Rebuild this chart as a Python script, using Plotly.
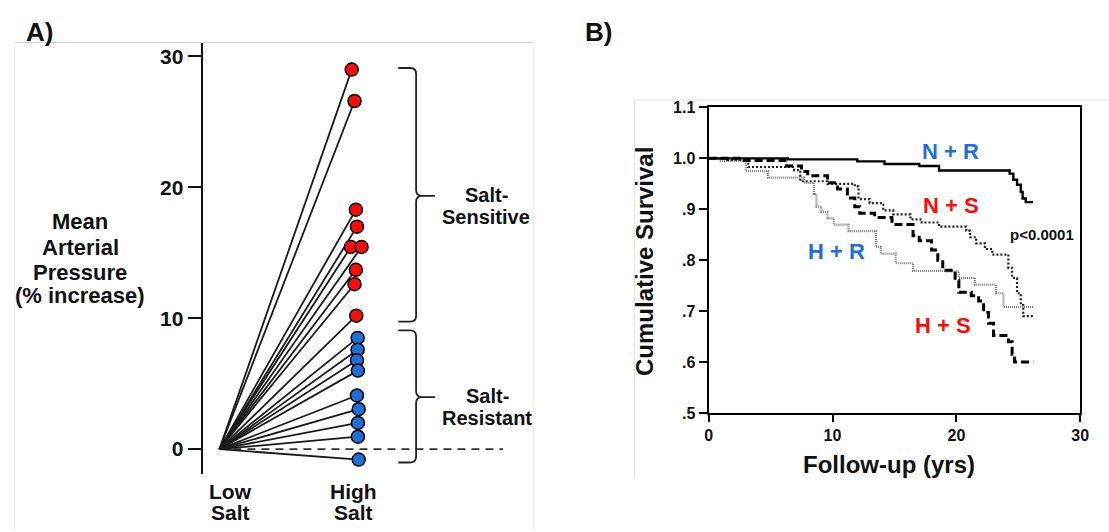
import plotly.graph_objects as go

# ---------------- data ----------------
# Panel A: % increase in mean arterial pressure, low -> high salt
sens_values = [29.0, 26.6, 18.3, 17.0, 15.45, 15.45, 13.7, 12.6, 10.2]
sens_x = [0.984, 1.005, 1.015, 1.023, 0.978, 1.057, 1.015, 1.005, 1.018]
res_values = [8.5, 7.6, 6.8, 6.0, 4.1, 3.05, 2.0, 0.95, -0.8]
res_x = [1.028, 1.028, 1.023, 1.030, 1.023, 1.036, 1.030, 1.030, 1.036]
low_x, low_y = 0.0, 0.0
a_ticks = [0, 10, 20, 30]

# Panel B: Kaplan-Meier cumulative survival
nr_t = [0, 6.4, 12.0, 14.2, 17.0, 18.6, 24.3, 24.6, 24.9, 25.2, 25.35, 25.6, 26.2]
nr_s = [1.0, 0.998, 0.994, 0.989, 0.985, 0.976, 0.970, 0.958, 0.948, 0.934, 0.921, 0.914, 0.914]

ns_t = [0, 1.5, 3.2, 6.9, 7.4, 9.6, 11.8, 12.1, 13.0, 14.1, 14.9, 16.3, 17.2, 18.6,
        20.8, 21.1, 21.6, 22.3, 22.9, 24.2, 24.5, 24.9, 25.2, 25.4, 26.2]
ns_s = [1.0, 0.997, 0.983, 0.977, 0.955, 0.950, 0.945, 0.920, 0.912, 0.898, 0.890, 0.880,
        0.874, 0.866, 0.858, 0.845, 0.833, 0.822, 0.811, 0.785, 0.765, 0.735, 0.712, 0.690, 0.690]

hr_t = [0, 0.9, 3.0, 4.8, 7.7, 8.5, 8.7, 9.1, 9.6, 10.1, 11.3, 13.5, 13.9, 15.1, 16.5,
        19.1, 20.2, 21.5, 23.2, 23.8, 26.2]
hr_s = [1.0, 0.995, 0.975, 0.962, 0.952, 0.930, 0.905, 0.895, 0.882, 0.870, 0.857, 0.826,
        0.813, 0.794, 0.779, 0.778, 0.765, 0.752, 0.735, 0.708, 0.708]

hs_t = [0, 2.9, 6.3, 7.5, 8.0, 9.6, 10.4, 11.2, 11.8, 12.2, 13.4, 14.8, 16.5, 17.0, 18.0,
        18.5, 18.9, 19.9, 20.2, 21.2, 21.8, 22.2, 22.6, 23.0, 24.2, 24.5, 24.7, 26.2]
hs_s = [1.0, 0.996, 0.985, 0.974, 0.966, 0.952, 0.940, 0.922, 0.905, 0.892, 0.884, 0.870,
        0.848, 0.838, 0.820, 0.800, 0.780, 0.760, 0.737, 0.730, 0.720, 0.697, 0.676, 0.652,
        0.640, 0.615, 0.600, 0.600]

b_yticks = [0.5, 0.6, 0.7, 0.8, 0.9, 1.0, 1.1]
b_yticktext = [".5", ".6", ".7", ".8", ".9", "1.0", "1.1"]
b_xticks = [0, 10, 20, 30]

# ---------------- layout helpers ----------------
W, H = 1109, 532
def PX(x):
    return x / W
def PY(y):
    return 1 - y / H

FONT = "Liberation Sans, Arial, Helvetica, sans-serif"
RED = "#ff0a0a"
BLUE = "#1f6fd8"

fig = go.Figure()

# ---------------- panel A ----------------
lx, ly = [], []
for xs, vs in ((sens_x, sens_values), (res_x, res_values)):
    for x, v in zip(xs, vs):
        lx += [low_x, x, None]
        ly += [low_y, v, None]
fig.add_trace(go.Scatter(x=lx, y=ly, mode="lines", xaxis="x", yaxis="y",
                         line=dict(color="#1a1a1a", width=1.8), hoverinfo="skip",
                         showlegend=False))
fig.add_trace(go.Scatter(x=sens_x, y=sens_values, mode="markers", xaxis="x", yaxis="y",
                         marker=dict(size=13, color=RED, line=dict(color="black", width=1.5)),
                         showlegend=False))
fig.add_trace(go.Scatter(x=res_x, y=res_values, mode="markers", xaxis="x", yaxis="y",
                         marker=dict(size=13, color=BLUE, line=dict(color="black", width=1.5)),
                         showlegend=False))

# ---------------- panel B ----------------
fig.add_trace(go.Scatter(x=hr_t, y=hr_s, mode="lines", line_shape="hv", xaxis="x2", yaxis="y2",
                         line=dict(color="#7a7a7a", width=2.2, dash="1px,1px"), showlegend=False))
fig.add_trace(go.Scatter(x=ns_t, y=ns_s, mode="lines", line_shape="hv", xaxis="x2", yaxis="y2",
                         line=dict(color="#222222", width=2.2, dash="2px,2px"), showlegend=False))
fig.add_trace(go.Scatter(x=hs_t, y=hs_s, mode="lines", line_shape="hv", xaxis="x2", yaxis="y2",
                         line=dict(color="black", width=3, dash="8px,4px"), showlegend=False))
fig.add_trace(go.Scatter(x=nr_t, y=nr_s, mode="lines", line_shape="hv", xaxis="x2", yaxis="y2",
                         line=dict(color="black", width=2.4), showlegend=False))

# axis geometry (window px)
A_x0, A_x1, A_low, A_unit = 201, 540, 218, 136
A_ytop, A_ybot, A_zero, A_scale = 36, 481, 455.7, 13.52
B_x0, B_x1, B_ytop, B_ybot = 713, 1089, 102.7, 418.3

def ax_x(px):
    return (px - A_low) / A_unit
def ax_y(py):
    return (A_zero - py) / A_scale

fig.update_layout(
    width=W, height=H, margin=dict(l=0, r=0, t=0, b=0),
    paper_bgcolor="white", plot_bgcolor="rgba(0,0,0,0)",
    font=dict(family=FONT, color="#111111"),
    xaxis=dict(domain=[PX(A_x0), PX(A_x1)], range=[ax_x(A_x0), ax_x(A_x1)], visible=False,
               fixedrange=True),
    yaxis=dict(domain=[PY(A_ybot), PY(A_ytop)], range=[ax_y(A_ybot), ax_y(A_ytop)],
               showline=True, linecolor="#111111", linewidth=2, showgrid=False, zeroline=False,
               ticks="outside", ticklen=13, tickwidth=2, tickcolor="#111111",
               tickvals=a_ticks, tickfont=dict(size=21, family=FONT, weight="bold"),
               anchor="x", fixedrange=True),
    xaxis2=dict(domain=[PX(B_x0), PX(B_x1)], range=[0, 30], anchor="y2",
                showline=True, mirror=True, linecolor="black", linewidth=2.2, showgrid=False,
                zeroline=False, ticks="outside", ticklen=7, tickwidth=2, tickcolor="black",
                tickvals=b_xticks, tickfont=dict(size=16, family=FONT, weight="bold"),
                fixedrange=True),
    yaxis2=dict(domain=[PY(B_ybot), PY(B_ytop)], range=[0.5, 1.1], anchor="x2",
                showline=True, mirror=True, linecolor="black", linewidth=2.2, showgrid=False,
                zeroline=False, ticks="outside", ticklen=8, tickwidth=2, tickcolor="black",
                tickvals=b_yticks, ticktext=b_yticktext,
                tickfont=dict(size=16, family=FONT, weight="bold"), fixedrange=True),
)

shapes = []
# panel frames (light grey)
grey = "#cfcfcf"
shapes.append(dict(type="line", xref="paper", yref="paper", x0=PX(11), x1=PX(536), y0=PY(35.7), y1=PY(35.7), line=dict(color=grey, width=1)))
shapes.append(dict(type="line", xref="paper", yref="paper", x0=PX(11), x1=PX(11), y0=PY(35.7), y1=PY(540), line=dict(color="#ececec", width=1)))
shapes.append(dict(type="line", xref="paper", yref="paper", x0=PX(536), x1=PX(536), y0=PY(35.7), y1=PY(540), line=dict(color="#ececec", width=1)))
shapes.append(dict(type="line", xref="paper", yref="paper", x0=PX(638), x1=PX(1120), y0=PY(95), y1=PY(95), line=dict(color="#e3e3e3", width=1)))
shapes.append(dict(type="line", xref="paper", yref="paper", x0=PX(638), x1=PX(638), y0=PY(95), y1=PY(486), line=dict(color="#e3e3e3", width=1)))

# zero dashed reference line
shapes.append(dict(type="line", xref="x", yref="y", x0=low_x, x1=ax_x(505), y0=0, y1=0,
                   line=dict(color="#333333", width=1.6, dash="8px,6px"), layer="below"))

# curly brackets
def brace(ytop, ybot, ymid):
    x0 = ax_x(399)
    x1 = ax_x(417)
    xt = ax_x(436)
    rx = ax_x(417) - ax_x(411)
    ry = 0.45
    p = (f"M {x0},{ytop} L {x1 - rx},{ytop} Q {x1},{ytop} {x1},{ytop - ry} "
         f"L {x1},{ymid + ry} Q {x1},{ymid} {x1 + rx},{ymid} L {xt},{ymid} "
         f"M {x1 + rx},{ymid} Q {x1},{ymid} {x1},{ymid - ry} "
         f"L {x1},{ybot + ry} Q {x1},{ybot} {x1 - rx},{ybot} L {x0},{ybot}")
    return dict(type="path", xref="x", yref="y", path=p, line=dict(color="#222222", width=1.8))

shapes.append(brace(ax_y(62), ax_y(324), ax_y(194)))
shapes.append(brace(ax_y(333), ax_y(469.5), ax_y(402)))
fig.update_layout(shapes=shapes)

ann = []
def text(x, y, s, size, color="#111111", xanchor="center", angle=0):
    ann.append(dict(x=PX(x), y=PY(y), xref="paper", yref="paper", text=s, showarrow=False,
                    xanchor=xanchor, yanchor="middle", textangle=angle,
                    font=dict(size=size, color=color, family=FONT, weight="bold")))

text(35.5, 25, "A)", 26)
text(602, 25, "B)", 26)
for s, y in (("Mean", 221), ("Arterial", 247), ("Pressure", 273), ("(% increase)", 297)):
    text(77, y, s, 22)
text(229, 499, "Low", 21)
text(229, 521, "Salt", 21)
text(354, 499, "High", 21)
text(354, 521, "Salt", 21)
text(488, 193, "Salt-", 20)
text(488, 216, "Sensitive", 20)
text(489, 401, "Salt-", 20)
text(489, 424, "Resistant", 20)

text(958, 148, "N + R", 22, BLUE)
text(958, 204, "N + S", 22, RED)
text(1050, 234, "p<0.0001", 15)
text(842, 252, "H + R", 22, BLUE)
text(950, 328, "H + S", 22, RED)
text(648, 262, "Cumulative Survival", 24, angle=-90)
text(896, 472, "Follow-up (yrs)", 24)
fig.update_layout(annotations=ann)

fig.write_html("out.html", config={"displayModeBar": False},
               post_script="document.body.style.margin='0';document.body.style.overflow='hidden';")
